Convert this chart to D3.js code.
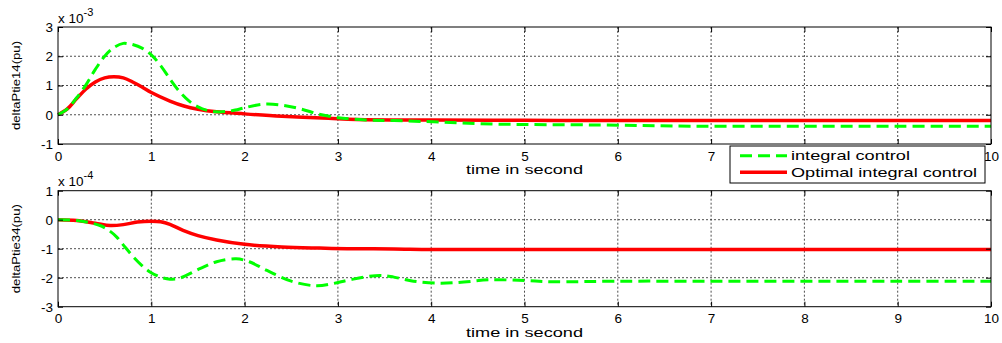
<!DOCTYPE html>
<html>
<head>
<meta charset="utf-8">
<script src="https://cdn.jsdelivr.net/npm/d3@7"></script>
<style>
  body { margin: 0; background: #fff; }
  text { font-family: "Liberation Sans", Arial, sans-serif; fill: #000; }
</style>
</head>
<body>
<div id="container"></div>
<script>
//Top panel: deltaPtie14, values in units of 1e-3
var topIntT = [0, 0.1, 0.2, 0.3, 0.4, 0.5, 0.6, 0.7, 0.75, 0.8, 0.9, 1.0, 1.1, 1.2, 1.3, 1.4, 1.5, 1.6, 1.7, 1.8, 1.9, 2.0, 2.2, 2.4, 2.6, 2.8, 3.0, 3.3, 3.6, 4.1, 4.7, 5.8, 6.8, 8, 9, 10];
var topIntV = [0, 0.2, 0.58, 1.02, 1.55, 2.0, 2.3, 2.44, 2.43, 2.4, 2.28, 2.05, 1.68, 1.22, 0.8, 0.48, 0.27, 0.15, 0.1, 0.11, 0.16, 0.24, 0.36, 0.33, 0.2, 0.02, -0.1, -0.18, -0.2, -0.25, -0.32, -0.35, -0.39, -0.39, -0.39, -0.39];
var topOptT = [0, 0.1, 0.2, 0.3, 0.4, 0.5, 0.6, 0.7, 0.8, 0.9, 1.0, 1.2, 1.35, 1.5, 1.7, 2.0, 2.4, 2.9, 3.2, 4, 5, 6, 7, 8, 9, 10];
var topOptV = [0, 0.2, 0.55, 0.88, 1.12, 1.26, 1.3, 1.26, 1.12, 0.95, 0.76, 0.47, 0.3, 0.19, 0.1, 0.03, -0.05, -0.12, -0.16, -0.18, -0.19, -0.2, -0.2, -0.2, -0.2, -0.2];

//Bottom panel: deltaPtie34, values in units of 1e-4
var botIntT = [0, 0.2, 0.45, 0.55, 0.63, 0.72, 0.81, 0.9, 0.99, 1.1, 1.2, 1.3, 1.52, 1.7, 1.91, 2.05, 2.24, 2.5, 2.77, 2.95, 3.13, 3.45, 3.6, 3.81, 4.09, 4.35, 4.63, 5.0, 5.3, 6, 7, 8, 9, 10];
var botIntV = [0, -0.03, -0.2, -0.38, -0.6, -0.95, -1.29, -1.58, -1.81, -1.98, -2.05, -2.02, -1.69, -1.45, -1.35, -1.45, -1.75, -2.12, -2.28, -2.2, -2.07, -1.92, -1.98, -2.12, -2.19, -2.15, -2.07, -2.1, -2.14, -2.12, -2.12, -2.12, -2.12, -2.12];
var botOptT = [0, 0.2, 0.4, 0.56, 0.7, 0.85, 1.0, 1.1, 1.2, 1.34, 1.5, 1.7, 2.0, 2.4, 2.8, 3.1, 3.6, 4, 5, 6, 7, 8, 9, 10];
var botOptV = [0, -0.03, -0.12, -0.2, -0.17, -0.08, -0.05, -0.07, -0.16, -0.37, -0.55, -0.7, -0.85, -0.94, -0.98, -1.0, -1.01, -1.03, -1.03, -1.03, -1.03, -1.03, -1.03, -1.03];

var xTicks = [0, 1, 2, 3, 4, 5, 6, 7, 8, 9, 10];
var topYTicks = [-1, 0, 1, 2, 3];
var botYTicks = [-3, -2, -1, 0, 1];
var legendLabels = ["integral control", "Optimal integral control"];

var width = 1002, height = 343;

var svg = d3.select("#container").append("svg")
    .attr("width", width)
    .attr("height", height);

svg.append("rect").attr("width", width).attr("height", height).attr("fill", "#fff");

var x = d3.scaleLinear().domain([0, 10]).range([58, 991]);

function zip(t, v) {
    return t.map(function (d, i) { return [d, v[i]]; });
}

//MATLAB renders its text wide, so stretch to the measured width
function stretch(sel, len) {
    sel.attr("textLength", len).attr("lengthAdjust", "spacingAndGlyphs");
}

function panel(top, bottom, yTicks, exponent, ylabel, intData, optData) {
    var y = d3.scaleLinear().domain([yTicks[0], yTicks[yTicks.length - 1]]).range([bottom, top]);
    var g = svg.append("g");
    var fmt = function (d) { return String(d); };

    //grid
    g.append("g").selectAll("line").data(xTicks.slice(1, -1)).enter().append("line")
        .attr("x1", function (d) { return x(d); }).attr("x2", function (d) { return x(d); })
        .attr("y1", top).attr("y2", bottom)
        .attr("stroke", "#222").attr("stroke-width", 0.8).attr("stroke-dasharray", "2,2");
    g.append("g").selectAll("line").data(yTicks.slice(1, -1)).enter().append("line")
        .attr("y1", function (d) { return y(d); }).attr("y2", function (d) { return y(d); })
        .attr("x1", x(0)).attr("x2", x(10))
        .attr("stroke", "#222").attr("stroke-width", 0.8).attr("stroke-dasharray", "2,2");

    //curves
    var line = d3.line()
        .x(function (d) { return x(d[0]); })
        .y(function (d) { return y(d[1]); })
        .curve(d3.curveCatmullRom.alpha(0.5));
    g.append("path").datum(optData).attr("d", line)
        .attr("fill", "none").attr("stroke", "#ff0000").attr("stroke-width", 3.5);
    g.append("path").datum(intData).attr("d", line)
        .attr("fill", "none").attr("stroke", "#00ff00").attr("stroke-width", 3)
        .attr("stroke-dasharray", "12,6");

    //axes with inward ticks
    g.append("g").attr("transform", "translate(0," + bottom + ")")
        .call(d3.axisBottom(x).tickValues(xTicks).tickFormat(fmt).tickSizeInner(-5).tickSizeOuter(0).tickPadding(7));
    g.append("g").attr("transform", "translate(0," + top + ")")
        .call(d3.axisTop(x).tickValues(xTicks).tickFormat("").tickSizeInner(-5).tickSizeOuter(0));
    g.append("g").attr("transform", "translate(" + x(0) + ",0)")
        .call(d3.axisLeft(y).tickValues(yTicks).tickFormat(fmt).tickSizeInner(-5).tickSizeOuter(0).tickPadding(5));
    g.append("g").attr("transform", "translate(" + x(10) + ",0)")
        .call(d3.axisRight(y).tickValues(yTicks).tickFormat("").tickSizeInner(-5).tickSizeOuter(0));
    g.selectAll(".domain").remove();
    g.selectAll(".tick line").attr("stroke", "#000");
    g.selectAll(".tick text").attr("font-size", 13.5).attr("font-family", "Liberation Sans, Arial, sans-serif");

    //box
    g.append("rect").attr("x", x(0)).attr("y", top)
        .attr("width", x(10) - x(0)).attr("height", bottom - top)
        .attr("fill", "none").attr("stroke", "#000").attr("stroke-width", 1);

    //exponent
    var ex = g.append("text").attr("x", x(0)).attr("y", top - 4.5).attr("font-size", 13.5);
    ex.append("tspan").text("x 10");
    ex.append("tspan").attr("dy", -7).attr("font-size", 11).text(exponent);

    //labels
    g.append("text").attr("x", (x(0) + x(10)) / 2).attr("y", bottom + 30)
        .attr("text-anchor", "middle").attr("font-size", 13).text("time in second")
        .call(stretch, 117);
    g.append("text").attr("transform", "translate(20," + (top + bottom) / 2 + ") rotate(-90)")
        .attr("text-anchor", "middle").attr("font-size", 11.5).text(ylabel)
        .call(stretch, 89);
}

panel(27, 144, topYTicks, "-3", "deltaPtie14(pu)", zip(topIntT, topIntV), zip(topOptT, topOptV));
panel(190.7, 306.7, botYTicks, "-4", "deltaPtie34(pu)", zip(botIntT, botIntV), zip(botOptT, botOptV));

//legend
var legendWidths = [119, 186];
var lg = svg.append("g").attr("transform", "translate(730,146)");
lg.append("rect").attr("width", 255).attr("height", 37)
    .attr("fill", "#fff").attr("stroke", "#000").attr("stroke-width", 1);
var items = lg.selectAll(".item").data(legendLabels).enter().append("g")
    .attr("transform", function (d, i) { return "translate(0," + (9.7 + i * 16.6) + ")"; });
items.append("line").attr("x1", 10).attr("x2", 57)
    .attr("stroke", function (d, i) { return i === 0 ? "#00ff00" : "#ff0000"; })
    .attr("stroke-width", function (d, i) { return i === 0 ? 3 : 3.5; })
    .attr("stroke-dasharray", function (d, i) { return i === 0 ? "12,6" : null; });
items.append("text").attr("x", 61).attr("dy", "0.35em").attr("font-size", 13.5)
    .attr("textLength", function (d, i) { return legendWidths[i]; })
    .attr("lengthAdjust", "spacingAndGlyphs")
    .text(function (d) { return d; });
</script>
</body>
</html>
